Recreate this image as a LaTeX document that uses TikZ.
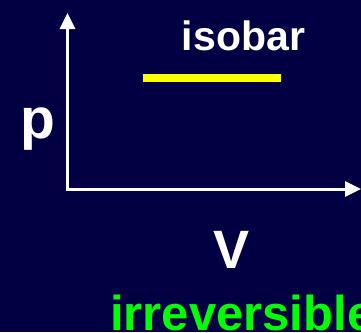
\documentclass[tikz,border=0pt]{standalone}
\usepackage{fontspec}
\setmainfont{Liberation Sans}
\usetikzlibrary{arrows.meta,positioning}
\definecolor{navy}{HTML}{000042}
\definecolor{isoline}{HTML}{FFFF00}
\definecolor{irrgreen}{HTML}{00FF00}

\begin{document}
\begin{tikzpicture}[
  x=1pt,y=-1pt,
  lbl/.style={inner sep=0pt,text=white,font=\bfseries},
  axis/.style={{Triangle[length=16pt,width=15pt]}-{Triangle[length=16pt,width=15pt]},
               draw=white,line width=3pt},
  iso/.style={draw=isoline,line width=8pt}
]
\fill[navy] (0,0) rectangle (361,332);
\useasboundingbox (0,0) rectangle (361,332);

\coordinate (o)  at (67.5,189);
\coordinate (pt) at (67.5,13);
\coordinate (vt) at (361,189);
\draw[axis] (pt) -- (o) -- (vt);

\coordinate (a) at (143,78);
\coordinate (b) at (281,78);
\draw[iso] (a) -- (b);

\node[lbl,anchor=base,font=\bfseries\fontsize{41}{41}\selectfont] (title) at (243.5,50) {isobar};
\node[lbl,anchor=base,font=\bfseries\fontsize{57}{57}\selectfont] (p) at (37.5,138) {p};
\node[lbl,anchor=base,font=\bfseries\fontsize{54}{54}\selectfont] (v) at (232,268) {V};
\node[lbl,anchor=base west,text=irrgreen,font=\bfseries\fontsize{49}{49}\selectfont] (irr) at (110,330) {irreversible};
\end{tikzpicture}
\end{document}
